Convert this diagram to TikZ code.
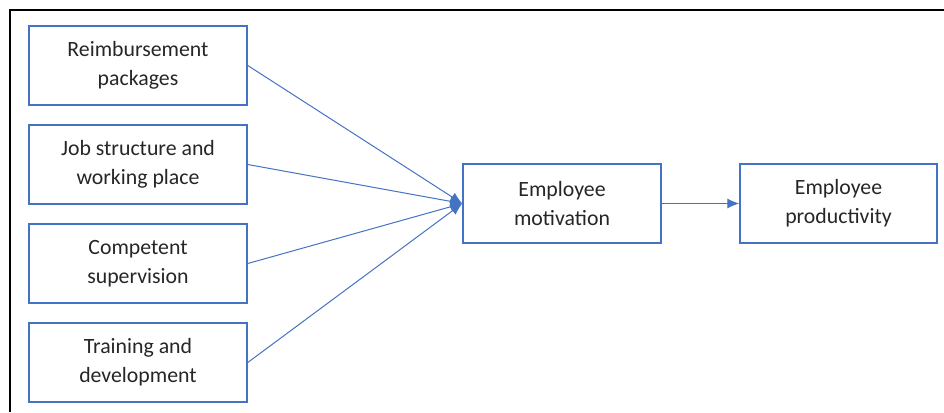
\documentclass[tikz,border=0pt]{standalone}
\usepackage{fontspec}
\setmainfont{Carlito}
\usetikzlibrary{arrows.meta}
\definecolor{boxblue}{HTML}{4472C4}

\begin{document}
\begin{tikzpicture}[x=1pt,y=-1pt,
	factor/.style={draw=boxblue,line width=1.5pt,minimum width=218pt,minimum height=79pt,align=center,inner sep=0pt,text=black!85,font=\fontsize{21.8}{29}\selectfont},
	outcome/.style={factor,minimum width=198pt},
	link/.style={boxblue,line width=1pt,-{Latex[length=12pt,width=10pt]}}]
	\useasboundingbox (0,0) rectangle (944,412);
	\draw[line width=2pt] (10,412) -- (10,10) -- (944,10);
	\node[factor] (reimb) at (138,65.5) {Reimbursement\\packages};
	\node[factor] (job) at (138,164.5) {Job structure and\\working place};
	\node[factor] (superv) at (138,263.5) {Competent\\supervision};
	\node[factor] (train) at (138,362.5) {Training and\\development};
	\node[outcome] (motiv) at (562,203.5) {Employee\\motivation};
	\node[outcome,minimum width=197pt] (prod) at (838.5,203.5) {Employee\\productivity};
	\foreach \f in {reimb,job,superv,train}
		\draw[link] (\f.east) -- (motiv.west);
	\draw[link] (motiv) -- (prod);
\end{tikzpicture}
\end{document}
